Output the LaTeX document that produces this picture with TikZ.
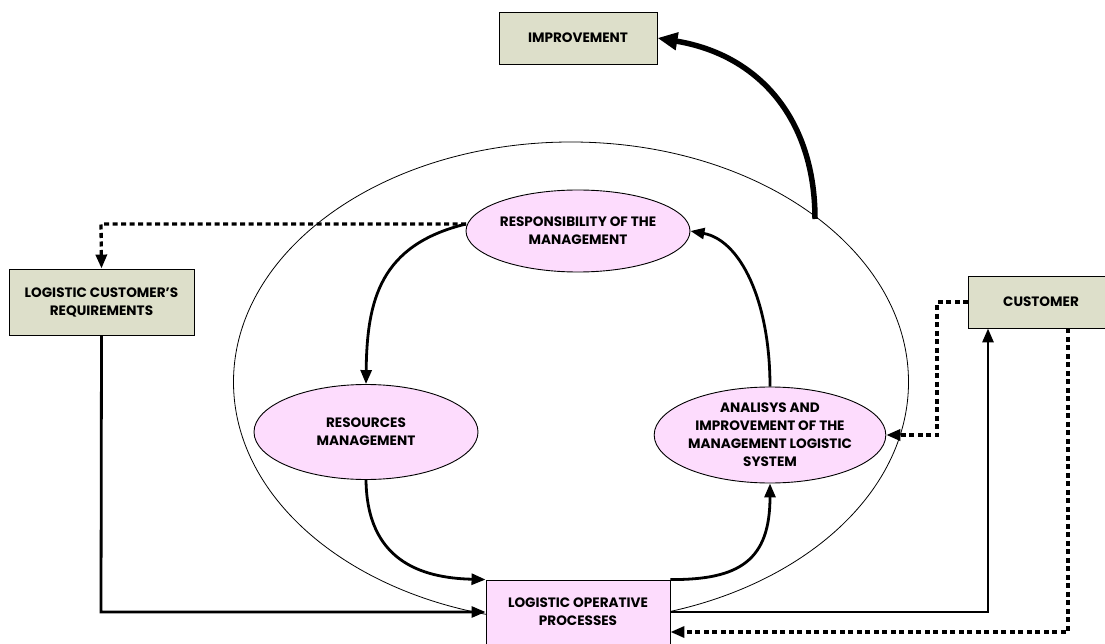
\documentclass[tikz,border=0pt]{standalone}
\usepackage{fontspec}
\setmainfont{Poppins}
\usetikzlibrary{shapes.geometric,arrows.meta}
\definecolor{boxolive}{HTML}{DDDFCA}
\definecolor{boxpink}{HTML}{FDDCFD}
\tikzset{
  every node/.style={font=\bfseries\fontsize{13.6}{18}\selectfont, align=center, inner sep=0pt},
  olivebox/.style={draw, fill=boxolive, line width=0.9pt},
  pinkbox/.style={draw, fill=boxpink, line width=0.9pt},
  pinkoval/.style={draw, fill=boxpink, ellipse, line width=0.9pt},
  flow/.style={line width=2.8pt, -{Triangle[length=14pt,width=11pt]}},
  dotflow/.style={line width=3.3pt, dash pattern=on 5pt off 3.5pt, -{Triangle[length=14pt,width=11pt]}},
}
\begin{document}
\begin{tikzpicture}[x=1pt,y=-1pt]
\useasboundingbox (0,0) rectangle (1105,644);

% outer system boundary
\draw[line width=0.8pt] (571,382) ellipse [x radius=337.5, y radius=240];

% boxes
\node[olivebox, minimum width=158pt, minimum height=52pt] (imp) at (578,38) {IMPROVEMENT};
\node[olivebox, minimum width=185pt, minimum height=66pt] (lcr) at (101.5,302) {LOGISTIC CUSTOMER'S\\REQUIREMENTS};
\node[olivebox, minimum width=150pt, minimum height=52pt, anchor=west] (cus) at (968,302) {};
\node (custxt) at (1041,302) {CUSTOMER};
\node[pinkbox, minimum width=184pt, minimum height=70pt] (lop) at (578,615) {};
\node (loptxt) at (578,612) {LOGISTIC OPERATIVE\\PROCESSES};

% process ovals
\node[pinkoval, minimum width=224pt, minimum height=82pt] (resp) at (578,231) {RESPONSIBILITY OF THE\\MANAGEMENT};
\node[pinkoval, minimum width=224pt, minimum height=95pt] (res) at (366,432) {RESOURCES\\MANAGEMENT};
\node[pinkoval, minimum width=227pt, minimum height=96pt] (ana) at (770,435) {ANALISYS AND\\IMPROVEMENT OF THE\\MANAGEMENT LOGISTIC\\SYSTEM};

% anchor points on the boundary
\coordinate (impstart) at (815,219);
\coordinate (respL) at (466,224);
\coordinate (lcrturn) at (101,224);
\coordinate (lopturnL) at (101,612);
\coordinate (lopturnR) at (988,612);
\coordinate (dotR) at (1068,632);
\coordinate (cusL) at (937,302);
\coordinate (anaR) at (937,435);

% thick feedback to improvement
\draw[line width=5.5pt, -{Triangle[length=20pt,width=17pt]}] (impstart) .. controls (815,120) and (760,55) .. (imp.east);

% management cycle
\draw[flow] (respL) .. controls (380,245) and (367,300) .. (res.north);
\draw[flow] (res.south) .. controls (367,560) and (420,578) .. (lop.north west);
\draw[flow] (lop.north east) .. controls (740,580) and (770,560) .. (ana.south);
\draw[flow] (ana.north) .. controls (770,300) and (740,240) .. (resp.east);

% requirements and customer loop
\draw[dotflow] (respL) -- (lcrturn) -- (lcr.north);
\draw[flow] (lcr.south) -- (lopturnL) -- (lop.west |- lopturnL);
\draw[flow] (lop.east |- lopturnR) -- (lopturnR) -- (cus.south west -| lopturnR);
\draw[dotflow] (cus.south -| dotR) -- (dotR) -- (lop.east |- dotR);
\draw[dotflow] (cus.west) -- (cusL) -- (anaR) -- (ana.east);
\end{tikzpicture}
\end{document}
